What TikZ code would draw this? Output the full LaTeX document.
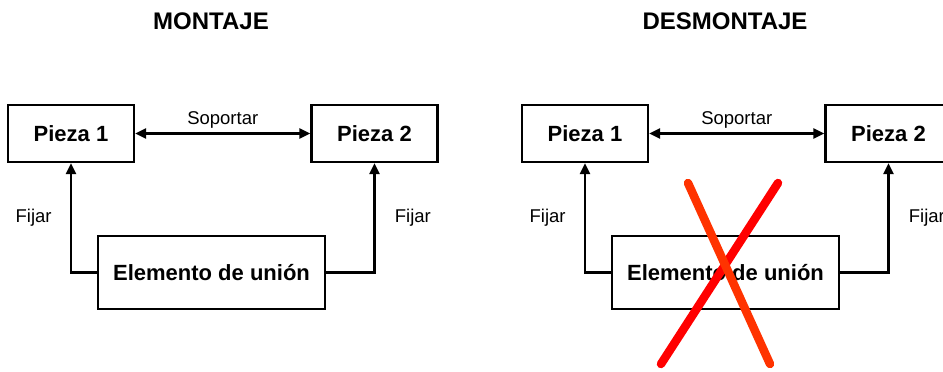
\documentclass[tikz,border=0pt]{standalone}
\usepackage{fontspec}
\setmainfont{Liberation Sans}
\usetikzlibrary{arrows.meta}
\definecolor{tachaA}{RGB}{255,0,0}
\definecolor{tachaB}{RGB}{255,51,0}
\tikzset{
  >={Triangle[length=11pt,width=10pt]},
  pieza/.style={draw, line width=2.2pt, minimum width=126pt, minimum height=57pt,
    inner sep=0pt, font=\fontsize{22}{26}\selectfont\bfseries},
  union/.style={pieza, minimum width=227pt, minimum height=73pt},
  titulo/.style={anchor=base, inner sep=0pt, font=\fontsize{24}{28}\selectfont\bfseries},
  etiqueta/.style={font=\fontsize{18.5}{22}\selectfont},
  flecha/.style={line width=2.2pt},
  tacha/.style={line width=8.5pt, line cap=round}
}
% #1: desplazamiento en x, #2: prefijo de nombres, #3: titulo
\newcommand{\drawunion}[3]{
  \node[titulo] (#2tit) at (#1+211,30) {#3};
  \node[pieza] (#2p1) at (#1+71,133.5) {Pieza 1};
  \node[pieza] (#2p2) at (#1+374.5,133.5) {Pieza 2};
  \node[union] (#2el) at (#1+211.5,272.5) {Elemento de uni\'on};
  \draw[flecha, <->] (#2p1) -- node[etiqueta, above=1pt] {Soportar} (#2p2);
  \draw[flecha, ->] (#2el.west) -| node[etiqueta, pos=0.75, left=15pt] {Fijar} (#2p1.south);
  \draw[flecha, ->] (#2el.east) -| node[etiqueta, pos=0.75, right=16pt] {Fijar} (#2p2.south);
}

\begin{document}
\begin{tikzpicture}[x=1pt, y=-1pt]
\clip (0,0) rectangle (943,372);
\drawunion{0}{m}{MONTAJE}
\drawunion{514}{d}{DESMONTAJE}
% aspa roja sobre el desmontaje
\draw[tacha, tachaA] (778,183) -- (661,364);
\draw[tacha, tachaB] (688,183) -- (770,364);
\end{tikzpicture}
\end{document}
